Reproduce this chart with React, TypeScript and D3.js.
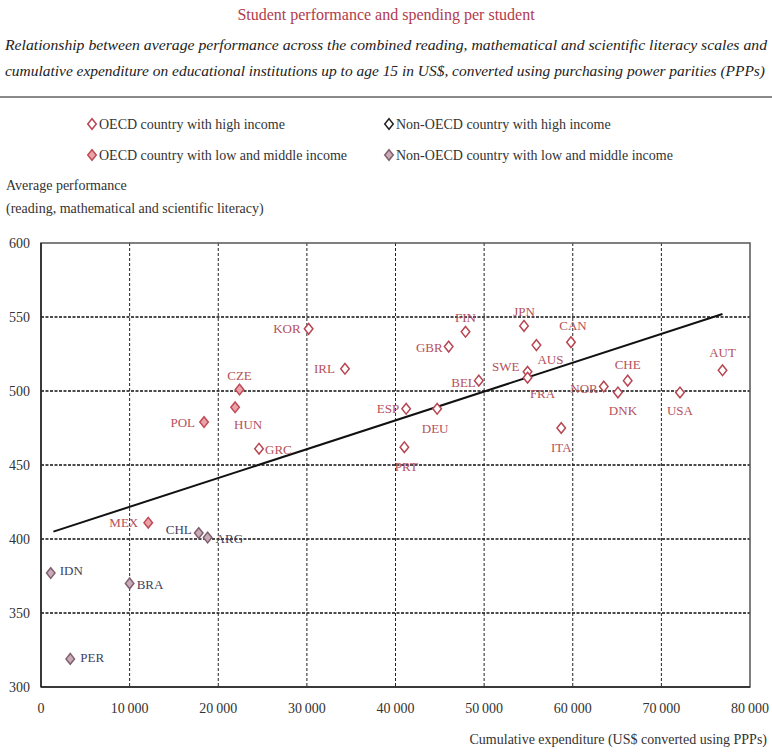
import React from "react";
import * as d3 from "d3";

const countries = ["KOR","IRL","CZE","HUN","POL","GRC","ESP","PRT","DEU","BEL","GBR","FIN","JPN","AUS","SWE","FRA","CAN","NOR","DNK","CHE","USA","AUT","ITA","MEX","CHL","ARG","IDN","BRA","PER"];
const expenditure = [30200,34300,22400,21900,18400,24600,41200,41000,44700,49400,46000,47900,54500,55900,54900,54900,59800,63500,65100,66200,72100,76900,58700,12100,17800,18800,1100,10000,3300];
const performance = [542,515,501,489,479,461,488,462,488,507,530,540,544,531,513,509,533,503,499,507,499,514,475,411,404,401,377,370,319];
const groups = ["oh","oh","ol","ol","ol","oh","oh","oh","oh","oh","oh","oh","oh","oh","oh","oh","oh","oh","oh","oh","oh","oh","oh","ol","nl","nl","nl","nl","nl"];

const trendX = [1400, 76900];
const trendY = [405, 552];

const xTicks = [0,10000,20000,30000,40000,50000,60000,70000,80000];
const yTicks = [300,350,400,450,500,550,600];

const legendKeys = ["oh","nh","ol","nl"];
const legendLabels = ["OECD country with high income","Non-OECD country with high income","OECD country with low and middle income","Non-OECD country with low and middle income"];

// label placement: [dx, dy, anchor]
const labelPlace: Record<string, [number, number, string]> = {
  KOR: [-8, 4, "end"], IRL: [-10, 4, "end"], CZE: [0, -10, "middle"], HUN: [13, 22, "middle"],
  POL: [-9, 5, "end"], GRC: [6, 5, "start"], ESP: [-7, 4, "end"], PRT: [2, 24, "middle"],
  DEU: [-2, 24, "middle"], BEL: [-3, 6, "end"], GBR: [-6, 5, "end"], FIN: [0, -10, "middle"],
  JPN: [0, -10, "middle"], AUS: [14, 19, "middle"], SWE: [-8, -1, "end"], FRA: [15, 20, "middle"],
  CAN: [2, -12, "middle"], NOR: [-6, 6, "end"], DNK: [5, 23, "middle"], CHE: [0, -12, "middle"],
  USA: [0, 23, "middle"], AUT: [0, -13, "middle"], ITA: [0, 24, "middle"], MEX: [-10, 4, "end"],
  CHL: [-7, 1, "end"], ARG: [8, 5, "start"], IDN: [9, 2, "start"], BRA: [7, 6, "start"], PER: [10, 3, "start"],
};

const styles: Record<string, { stroke: string; fill: string; label: string }> = {
  oh: { stroke: "#b84552", fill: "#ffffff", label: "#b5505a" },
  ol: { stroke: "#c04a55", fill: "#eba3ab", label: "#b5505a" },
  nh: { stroke: "#222222", fill: "#ffffff", label: "#333" },
  nl: { stroke: "#80606f", fill: "#c9abb8", label: "#3c4063" },
};

const W = 772, H = 753;
const M = { left: 41, right: 750, top: 243, bottom: 687 };
const FONT = "'Liberation Serif', 'DejaVu Serif', serif";

const wideDiamond = {
  draw(ctx: any, size: number) {
    const h = Math.sqrt(size * 0.75);
    const w = h * 0.8;
    ctx.moveTo(0, -h);
    ctx.lineTo(w, 0);
    ctx.lineTo(0, h);
    ctx.lineTo(-w, 0);
    ctx.closePath();
  },
};

export default function App() {
  const x = d3.scaleLinear().domain([0, 80000]).range([M.left, M.right]);
  const y = d3.scaleLinear().domain([300, 600]).range([M.bottom, M.top]);
  const diamond = d3.symbol().type(wideDiamond as any).size(38)() as string;
  const fmt = (v: number) => (v === 0 ? "0" : d3.format(",")(v).replace(/,/g, "\u2009"));
  const line = d3.line<number>().x((_, i) => x(trendX[i])).y((d) => y(d));

  return (
    <svg width={W} height={H} style={{ position: "absolute", left: 0, top: 0, background: "#fff" }} fontFamily={FONT}>
      <rect width={W} height={H} fill="#fff" />
      <text x={386} y={20} textAnchor="middle" fontSize={16} fill="#b23b4c">Student performance and spending per student</text>
      <text x={5} y={50} fontSize={14} fontStyle="italic" fill="#222" textLength={762} lengthAdjust="spacingAndGlyphs">
        Relationship between average performance across the combined reading, mathematical and scientific literacy scales and
      </text>
      <text x={5} y={76} fontSize={14} fontStyle="italic" fill="#222" textLength={760} lengthAdjust="spacingAndGlyphs">
        cumulative expenditure on educational institutions up to age 15 in US$, converted using purchasing power parities (PPPs)
      </text>
      <line x1={0} x2={W} y1={97} y2={97} stroke="#8a8a8a" strokeWidth={2} />

      {legendKeys.map((k, i) => {
        const lx = i % 2 === 0 ? 92 : 389;
        const ly = i < 2 ? 124 : 155;
        const s = styles[k];
        return (
          <g key={k}>
            <path d={diamond} transform={`translate(${lx},${ly})`} fill={s.fill} stroke={s.stroke} strokeWidth={1.5} />
            <text x={lx + 7} y={ly + 5} fontSize={14} fill="#333">{legendLabels[i]}</text>
          </g>
        );
      })}

      <text x={6} y={190} fontSize={14} fill="#333">Average performance</text>
      <text x={6} y={213} fontSize={14} fill="#333">(reading, mathematical and scientific literacy)</text>

      {yTicks.filter((t) => t !== 300 && t !== 600).map((t) => (
        <line key={"gy" + t} x1={M.left} x2={M.right} y1={y(t)} y2={y(t)} stroke="#111" strokeWidth={1.3} strokeDasharray="3,1.5" />
      ))}
      {xTicks.filter((t) => t !== 0 && t !== 80000).map((t) => (
        <line key={"gx" + t} x1={x(t)} x2={x(t)} y1={M.top} y2={M.bottom} stroke="#222" strokeWidth={1} strokeDasharray="3,2" />
      ))}
      <rect x={M.left} y={M.top} width={M.right - M.left} height={M.bottom - M.top} fill="none" stroke="#555" strokeWidth={1.5} />
      <line x1={M.left} x2={M.right} y1={M.bottom} y2={M.bottom} stroke="#222" strokeWidth={1.5} />
      <line x1={M.left} x2={M.left} y1={M.top} y2={M.bottom} stroke="#222" strokeWidth={1.5} />

      {yTicks.map((t) => (
        <text key={"ty" + t} x={30} y={y(t) + 5} textAnchor="end" fontSize={14} fill="#333">{t}</text>
      ))}
      {xTicks.map((t) => (
        <text key={"tx" + t} x={x(t)} y={713} textAnchor="middle" fontSize={14} fill="#333">{fmt(t)}</text>
      ))}
      <text x={767} y={744} textAnchor="end" fontSize={14} fill="#333">Cumulative expenditure (US$ converted using PPPs)</text>

      <path d={line(trendY) as string} fill="none" stroke="#111" strokeWidth={2} />

      {countries.map((c, i) => {
        const s = styles[groups[i]];
        const cx = x(expenditure[i]);
        const cy = y(performance[i]);
        const [dx, dy, anchor] = labelPlace[c];
        return (
          <g key={c}>
            <path d={diamond} transform={`translate(${cx},${cy})`} fill={s.fill} stroke={s.stroke} strokeWidth={1.5} />
            <text x={cx + dx} y={cy + dy} textAnchor={anchor as any} fontSize={13} fill={s.label}>{c}</text>
          </g>
        );
      })}
    </svg>
  );
}
